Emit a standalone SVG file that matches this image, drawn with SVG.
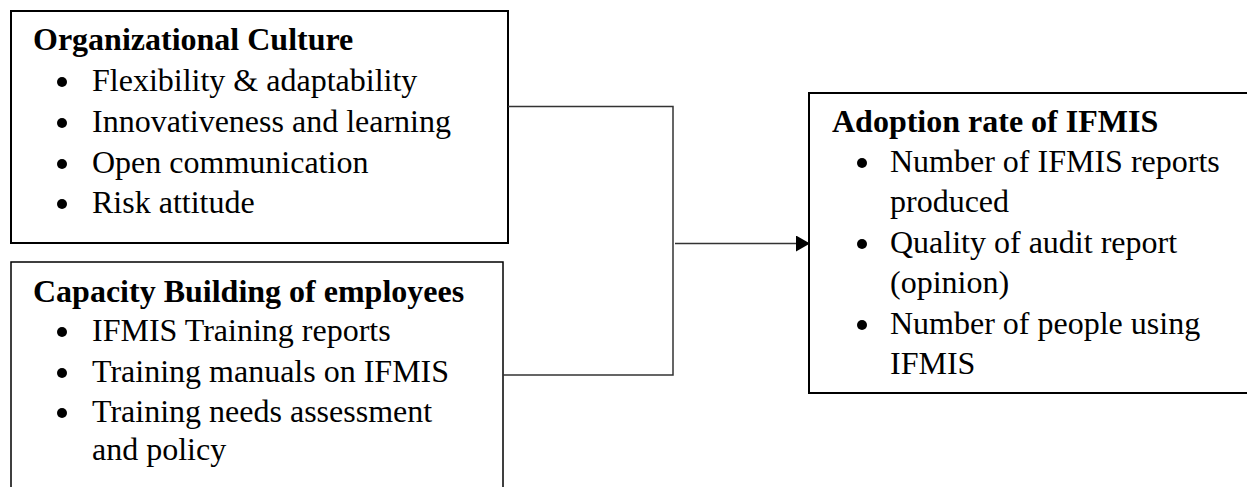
<svg xmlns="http://www.w3.org/2000/svg" width="1247" height="487" viewBox="0 0 1247 487">
  <style>
    .box { fill: #ffffff; stroke: #000000; stroke-width: 2; }
    .box.thin { stroke-width: 1.5; }
    .title { font-family: "Liberation Serif", "Times New Roman", serif; font-size: 32px; font-weight: bold; fill: #000000; }
    .item { font-family: "Liberation Serif", "Times New Roman", serif; font-size: 32px; fill: #000000; }
    .dot { fill: #000000; }
    .wire { fill: none; stroke: #333333; stroke-width: 1.5; }
  </style>
  <defs>
    <marker id="arrow" markerWidth="14" markerHeight="16" refX="13" refY="8" orient="auto" markerUnits="userSpaceOnUse">
      <path d="M0,0 L14,8 L0,16 Z" fill="#000000"/>
    </marker>
  </defs>
  <rect width="1247" height="487" fill="#ffffff"/>

  <!-- Organizational culture -->
  <g id="node-culture">
    <rect class="box" x="11" y="11" width="497" height="232"/>
    <text class="title" x="33" y="50">Organizational Culture</text>
    <circle class="dot" cx="62" cy="82" r="5"/>
    <text class="item" x="92" y="91">Flexibility &amp; adaptability</text>
    <circle class="dot" cx="62" cy="123" r="5"/>
    <text class="item" x="92" y="132">Innovativeness and learning</text>
    <circle class="dot" cx="62" cy="164" r="5"/>
    <text class="item" x="92" y="173">Open communication</text>
    <circle class="dot" cx="62" cy="204" r="5"/>
    <text class="item" x="92" y="213">Risk attitude</text>
  </g>

  <!-- Capacity building -->
  <g id="node-capacity">
    <rect class="box thin" x="11" y="262" width="492" height="240"/>
    <text class="title" x="33" y="302">Capacity Building of employees</text>
    <circle class="dot" cx="62" cy="332" r="5"/>
    <text class="item" x="92" y="341">IFMIS Training reports</text>
    <circle class="dot" cx="62" cy="373" r="5"/>
    <text class="item" x="92" y="382">Training manuals on IFMIS</text>
    <circle class="dot" cx="62" cy="413" r="5"/>
    <text class="item" x="92" y="422">Training needs assessment</text>
    <text class="item" x="92" y="460">and policy</text>
  </g>

  <!-- Adoption rate -->
  <g id="node-adoption">
    <rect class="box" x="809" y="93" width="450" height="300"/>
    <text class="title" x="832" y="132">Adoption rate of IFMIS</text>
    <circle class="dot" cx="862" cy="163" r="5"/>
    <text class="item" x="890" y="172">Number of IFMIS reports</text>
    <text class="item" x="890" y="212">produced</text>
    <circle class="dot" cx="862" cy="244" r="5"/>
    <text class="item" x="890" y="253">Quality of audit report</text>
    <text class="item" x="890" y="293">(opinion)</text>
    <circle class="dot" cx="862" cy="325" r="5"/>
    <text class="item" x="890" y="334">Number of people using</text>
    <text class="item" x="890" y="374">IFMIS</text>
  </g>

  <!-- Connectors -->
  <g id="connectors">
    <polyline class="wire" points="508,106.5 673,106.5 673,375 503,375"/>
    <line class="wire" x1="675" y1="243.5" x2="809" y2="243.5" marker-end="url(#arrow)"/>
  </g>
</svg>
